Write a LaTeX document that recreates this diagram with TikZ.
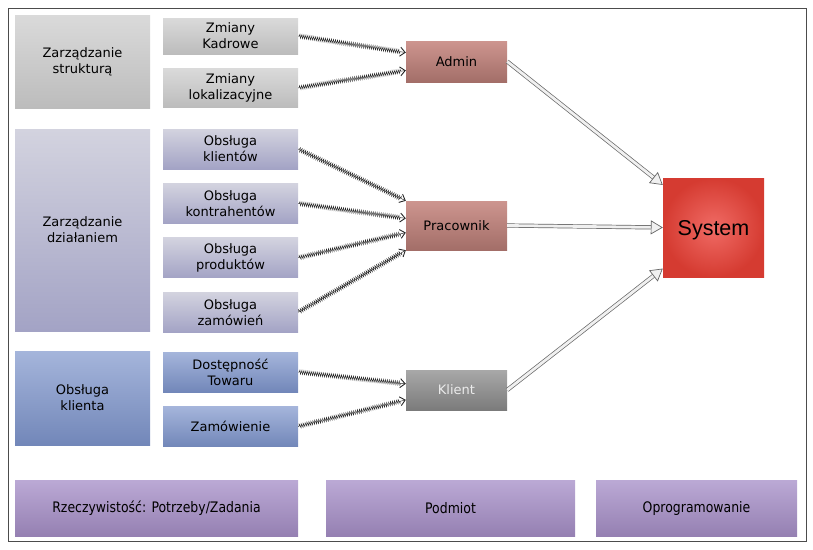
\documentclass[tikz,border=0pt]{standalone}
\usepackage{fontspec}
\setmainfont{DejaVu Sans}
\newfontfamily\condfont[FakeStretch=0.86]{DejaVu Sans}
\newfontfamily\sysfont{Liberation Sans}
\usetikzlibrary{arrows.meta,positioning,decorations.pathmorphing}
\definecolor{grayTop}{HTML}{DADADA}
\definecolor{grayBot}{HTML}{BCBCBC}
\definecolor{lavTop}{HTML}{D3D3DF}
\definecolor{lavBot}{HTML}{A3A3C5}
\definecolor{blueTop}{HTML}{A5B5DB}
\definecolor{blueBot}{HTML}{7287B9}
\definecolor{roleTop}{HTML}{CD958F}
\definecolor{roleBot}{HTML}{A36E68}
\definecolor{clientTop}{HTML}{A8A8A8}
\definecolor{clientBot}{HTML}{7B7B7B}
\definecolor{sysIn}{HTML}{F06B65}
\definecolor{sysOut}{HTML}{D53B31}
\definecolor{purTop}{HTML}{BBA9D5}
\definecolor{purBot}{HTML}{9580B2}
\tikzset{
  baseBox/.style={align=center, inner sep=2pt, font=\fontsize{13}{16}\selectfont},
  areaBox/.style={baseBox, minimum width=135pt},
  taskBox/.style={baseBox, minimum width=135pt},
  roleBox/.style={baseBox, minimum width=101pt, top color=roleTop, bottom color=roleBot},
  layerBox/.style={align=center, minimum height=56pt, top color=purTop, bottom color=purBot,
    font=\condfont\fontsize{14.5}{16}\selectfont},
  hatchArrow/.style={draw=black!85, line width=0.45pt,
    decorate, decoration={zigzag, amplitude=2pt, segment length=2pt, pre length=1pt, post length=5pt},
    -{Straight Barb[length=5pt, width=9pt, line width=0.9pt]}},
  bigArrow/.style={draw=gray!80!black, line width=0.7pt, double=gray!12, double distance=2.8pt,
    -{Triangle[length=12pt, width=14pt, fill=gray!12]}}
}
\begin{document}
\begin{tikzpicture}[x=1pt, y=-1pt, node distance=14pt]
  \useasboundingbox (0,0) rectangle (813,549);
  \draw[draw=black!70, line width=0.8pt] (8,8) rectangle (806,541);

  % obszary
  \node[areaBox, minimum height=93pt, top color=grayTop, bottom color=grayBot] (struct) at (82.5,61.5) {Zarządzanie\\ strukturą};
  \node[areaBox, minimum height=202pt, top color=lavTop, bottom color=lavBot] (action) at (82.5,230) {Zarządzanie\\ działaniem};
  \node[areaBox, minimum height=94pt, top color=blueTop, bottom color=blueBot] (service) at (82.5,398) {Obsługa\\ klienta};

  % zadania
  \node[taskBox, minimum height=36pt, top color=grayTop, bottom color=grayBot] (staff) at (230.5,36) {Zmiany\\ Kadrowe};
  \node[taskBox, minimum height=39pt, top color=grayTop, bottom color=grayBot, below=of staff] (place) {Zmiany\\ lokalizacyjne};
  \node[taskBox, minimum height=40pt, top color=lavTop, bottom color=lavBot] (clients) at (230.5,149) {Obsługa\\ klientów};
  \node[taskBox, minimum height=40pt, top color=lavTop, bottom color=lavBot, below=of clients] (partners) {Obsługa\\ kontrahentów};
  \node[taskBox, minimum height=40pt, top color=lavTop, bottom color=lavBot, below=of partners] (products) {Obsługa\\ produktów};
  \node[taskBox, minimum height=40pt, top color=lavTop, bottom color=lavBot, below=of products] (orders) {Obsługa\\ zamówień};
  \node[taskBox, minimum height=40pt, top color=blueTop, bottom color=blueBot] (stock) at (230.5,372) {Dostępność\\ Towaru};
  \node[taskBox, minimum height=40pt, top color=blueTop, bottom color=blueBot, below=of stock] (order) {Zamówienie};

  % podmioty
  \node[roleBox, minimum height=41pt] (admin) at (456.5,61.5) {Admin};
  \node[roleBox, minimum height=49pt] (worker) at (456.5,225.5) {Pracownik};
  \node[roleBox, minimum height=40pt, top color=clientTop, bottom color=clientBot, text=black!8] (client) at (456.5,390) {Klient};

  \node[minimum width=101pt, minimum height=99pt, text depth=0pt, inner color=sysIn, outer color=sysOut,
    font=\sysfont\fontsize{21.5}{24}\selectfont] (system) at (713.5,227.5) {System};

  % warstwy
  \node[layerBox, minimum width=283pt] (reality) at (156.5,508) {Rzeczywistość: Potrzeby/Zadania};
  \node[layerBox, minimum width=249pt] (subject) at (450.5,508) {Podmiot};
  \node[layerBox, minimum width=201pt] (software) at (696.5,508) {Oprogramowanie};

  \draw[hatchArrow] (staff.east) -- (admin.170);
  \draw[hatchArrow] (place.east) -- (admin.190);
  \draw[hatchArrow] (clients.east) -- (worker.north west);
  \draw[hatchArrow] (partners.east) -- (worker.172);
  \draw[hatchArrow] (products.east) -- (worker.188);
  \draw[hatchArrow] (orders.east) -- (worker.south west);
  \draw[hatchArrow] (stock.east) -- (client.173);
  \draw[hatchArrow] (order.east) -- (client.191);

  \draw[bigArrow] (admin.east) -- (system.140);
  \draw[bigArrow] (worker.east) -- (system.west);
  \draw[bigArrow] (client.east) -- (system.219);
\end{tikzpicture}
\end{document}
